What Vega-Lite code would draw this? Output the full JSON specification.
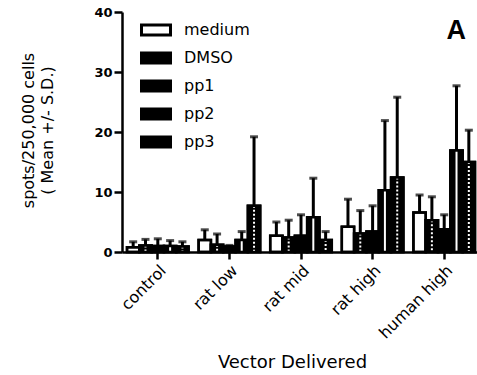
{
  "$schema": "https://vega.github.io/schema/vega-lite/v6.json",
  "width": 358,
  "height": 240,
  "autosize": "none",
  "padding": {"left": 122, "top": 12, "right": 0, "bottom": 123},
  "background": "white",
  "config": {
    "view": {"stroke": null},
    "font": "DejaVu Sans",
    "axis": {"domainColor": "black", "domainWidth": 2.5, "tickColor": "black", "tickWidth": 2.5, "grid": false, "labelColor": "black", "titleColor": "black"}
  },
  "data": {
    "values": [
      {"group": "control", "series": "medium", "value": 0.8, "upper": 1.7},
      {"group": "control", "series": "DMSO", "value": 1.1, "upper": 2.1},
      {"group": "control", "series": "pp1", "value": 1.0, "upper": 2.2},
      {"group": "control", "series": "pp2", "value": 1.0, "upper": 1.9},
      {"group": "control", "series": "pp3", "value": 0.9, "upper": 1.7},
      {"group": "rat low", "series": "medium", "value": 2.0, "upper": 3.7},
      {"group": "rat low", "series": "DMSO", "value": 1.2, "upper": 3.0},
      {"group": "rat low", "series": "pp1", "value": 0.9, "upper": 1.1},
      {"group": "rat low", "series": "pp2", "value": 2.0, "upper": 3.4},
      {"group": "rat low", "series": "pp3", "value": 7.7, "upper": 19.2},
      {"group": "rat mid", "series": "medium", "value": 2.7, "upper": 5.0},
      {"group": "rat mid", "series": "DMSO", "value": 2.4, "upper": 5.3},
      {"group": "rat mid", "series": "pp1", "value": 2.7, "upper": 6.2},
      {"group": "rat mid", "series": "pp2", "value": 5.8, "upper": 12.3},
      {"group": "rat mid", "series": "pp3", "value": 2.0, "upper": 3.4},
      {"group": "rat high", "series": "medium", "value": 4.2, "upper": 8.8},
      {"group": "rat high", "series": "DMSO", "value": 3.1, "upper": 6.9},
      {"group": "rat high", "series": "pp1", "value": 3.4, "upper": 7.7},
      {"group": "rat high", "series": "pp2", "value": 10.3, "upper": 21.9},
      {"group": "rat high", "series": "pp3", "value": 12.4, "upper": 25.8},
      {"group": "human high", "series": "medium", "value": 6.6, "upper": 9.5},
      {"group": "human high", "series": "DMSO", "value": 5.3, "upper": 9.2},
      {"group": "human high", "series": "pp1", "value": 3.8, "upper": 6.2},
      {"group": "human high", "series": "pp2", "value": 16.9, "upper": 27.7},
      {"group": "human high", "series": "pp3", "value": 15.0, "upper": 20.3}
    ]
  },
  "encoding": {
    "x": {
      "field": "group",
      "type": "nominal",
      "sort": ["control", "rat low", "rat mid", "rat high", "human high"],
      "scale": {"paddingInner": 0.14, "paddingOuter": 0.07},
      "axis": {
        "title": "Vector Delivered",
        "titleFontSize": 18,
        "titleFontWeight": "normal",
        "titleX": 170,
        "titleY": 101,
        "titleBaseline": "top",
        "titleAlign": "center",
        "labelAngle": -45,
        "labelAlign": "right",
        "labelBaseline": "top",
        "labelFontSize": 16,
        "labelPadding": 3,
        "tickSize": 7
      }
    }
  },
  "layer": [
    {
      "mark": {"type": "rule", "color": "black", "strokeWidth": 3},
      "encoding": {
        "xOffset": {"field": "series", "type": "nominal", "sort": ["medium", "DMSO", "pp1", "pp2", "pp3"], "scale": {"paddingInner": 0, "paddingOuter": 0}},
        "y": {"field": "value", "type": "quantitative", "title": ["spots/250,000 cells", "( Mean +/- S.D.)"]},
        "y2": {"field": "upper"}
      }
    },
    {
      "mark": {"type": "tick", "color": "black", "thickness": 3, "size": 8, "orient": "horizontal"},
      "encoding": {
        "xOffset": {"field": "series", "type": "nominal", "sort": ["medium", "DMSO", "pp1", "pp2", "pp3"], "scale": {"paddingInner": 0, "paddingOuter": 0}},
        "y": {"field": "upper", "type": "quantitative", "title": ["spots/250,000 cells", "( Mean +/- S.D.)"]}
      }
    },
    {
      "mark": {"type": "bar", "stroke": "black", "strokeWidth": 2.5},
      "encoding": {
        "xOffset": {"field": "series", "type": "nominal", "sort": ["medium", "DMSO", "pp1", "pp2", "pp3"], "scale": {"paddingInner": 0, "paddingOuter": 0}},
        "y": {
          "field": "value",
          "type": "quantitative",
          "scale": {"domain": [0, 40], "nice": false},
          "title": ["spots/250,000 cells", "( Mean +/- S.D.)"],
          "axis": {
            "values": [0, 10, 20, 30, 40],
            "tickSize": 8,
            "labelPadding": 2,
            "labelFontSize": 13,
            "labelFontWeight": "bold",
            "titleFontSize": 16,
            "titleFontWeight": "normal",
            "titleLineHeight": 19,
            "titleAngle": -90,
            "titleX": -102,
            "titleY": 118,
            "titleBaseline": "top",
            "titleAlign": "center"
          }
        },
        "fill": {
          "field": "series",
          "type": "nominal",
          "sort": ["medium", "DMSO", "pp1", "pp2", "pp3"],
          "scale": {"domain": ["medium", "DMSO", "pp1", "pp2", "pp3"], "range": ["white", "black", "black", "black", "black"]},
          "legend": {
            "title": null,
            "orient": "none",
            "legendX": 18,
            "legendY": 2,
            "symbolType": "M-1,-0.35H1V0.35H-1Z",
            "symbolSize": 841,
            "symbolStrokeColor": "black",
            "symbolStrokeWidth": 3,
            "labelFont": "DejaVu Sans",
            "labelFontSize": 16,
            "labelColor": "black",
            "labelOffset": 12,
            "rowPadding": -1
          }
        }
      }
    },
    {
      "transform": [{"filter": "datum.series === 'pp2'"}],
      "mark": {"type": "rule", "color": "white", "strokeWidth": 2},
      "encoding": {
        "xOffset": {"field": "series", "type": "nominal", "sort": ["medium", "DMSO", "pp1", "pp2", "pp3"], "scale": {"paddingInner": 0, "paddingOuter": 0}},
        "y": {"field": "value", "type": "quantitative", "title": ["spots/250,000 cells", "( Mean +/- S.D.)"]},
        "y2": {"datum": 0}
      }
    },
    {
      "transform": [{"filter": "datum.series === 'pp3' || datum.series === 'DMSO'"}],
      "mark": {"type": "rule", "color": "white", "strokeWidth": 2, "strokeDash": [2, 2]},
      "encoding": {
        "xOffset": {"field": "series", "type": "nominal", "sort": ["medium", "DMSO", "pp1", "pp2", "pp3"], "scale": {"paddingInner": 0, "paddingOuter": 0}},
        "y": {"field": "value", "type": "quantitative", "title": ["spots/250,000 cells", "( Mean +/- S.D.)"]},
        "y2": {"datum": 0}
      }
    },
    {
      "mark": {"type": "bar", "fill": null, "fillOpacity": 0, "stroke": "black", "strokeWidth": 2.5},
      "encoding": {
        "xOffset": {"field": "series", "type": "nominal", "sort": ["medium", "DMSO", "pp1", "pp2", "pp3"], "scale": {"paddingInner": 0, "paddingOuter": 0}},
        "y": {"field": "value", "type": "quantitative", "title": ["spots/250,000 cells", "( Mean +/- S.D.)"]}
      }
    },
    {
      "data": {"values": [{"label": "A"}]},
      "mark": {"type": "text", "font": "Liberation Sans", "fontSize": 27, "fontWeight": "bold", "color": "black", "dx": 12, "baseline": "alphabetic", "align": "center"},
      "encoding": {
        "x": {"datum": "human high"},
        "y": {"datum": 35.5},
        "text": {"field": "label"}
      }
    }
  ]
}
